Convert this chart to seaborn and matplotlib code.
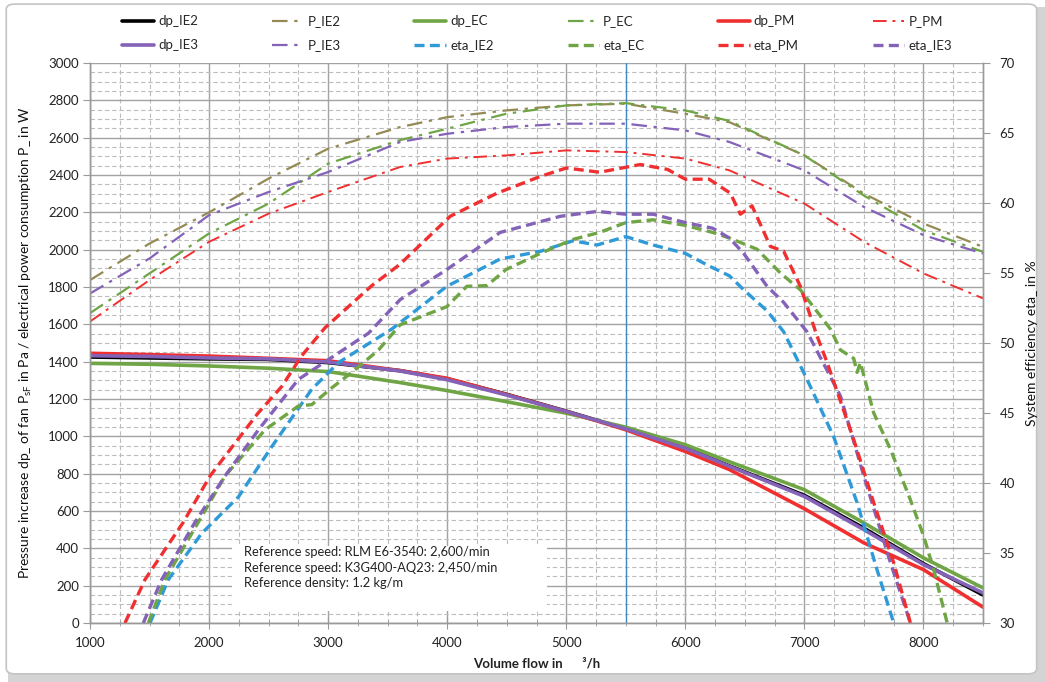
import matplotlib
matplotlib.use('Agg')

import matplotlib.pyplot as plt
import seaborn as sns
from matplotlib.ticker import MultipleLocator
from matplotlib.patches import Rectangle, FancyBboxPatch

# ---- data ----
flow_dp = [1000, 1500, 2000, 2500, 3000, 3605, 4000, 4495, 5000, 5500,
           6000, 6370, 7000, 7500, 8000, 8500]
dp_IE2 = [1425, 1420, 1415, 1412, 1395, 1352, 1308, 1226, 1135, 1040,
          938, 842, 684, 508, 318, 150]
dp_IE3 = [1432, 1428, 1420, 1415, 1398, 1350, 1303, 1222, 1133, 1040,
          936, 840, 678, 500, 313, 161]
dp_EC = [1391, 1386, 1377, 1365, 1347, 1288, 1245, 1186, 1124, 1049,
         955, 864, 714, 536, 349, 188]
dp_PM = [1445, 1438, 1430, 1418, 1405, 1352, 1311, 1225, 1133, 1035,
         919, 822, 612, 429, 286, 85]

flow_p = [1000, 1500, 2000, 2500, 3000, 3605, 4000, 4495, 5000, 5500,
          6000, 6370, 7000, 7500, 8000, 8500]
P_IE2 = [1837, 2033, 2200, 2381, 2541, 2657, 2710, 2746, 2773, 2782,
         2728, 2683, 2505, 2300, 2140, 2015]
P_IE3 = [1765, 1953, 2185, 2309, 2416, 2577, 2621, 2657, 2675, 2675,
         2639, 2577, 2425, 2229, 2078, 1979]
P_EC = [1660, 1873, 2087, 2247, 2461, 2587, 2648, 2728, 2773, 2785,
        2746, 2690, 2505, 2290, 2104, 1988]
P_PM = [1615, 1837, 2042, 2193, 2309, 2443, 2488, 2505, 2532, 2523,
        2488, 2425, 2247, 2042, 1873, 1739]

flow_eta_PM = [1294, 1462, 1784, 2008, 2160, 2412, 2611, 2779, 2975, 3367,
               3600, 4025, 4418, 4782, 5000, 5280, 5622, 5850, 6000, 6200,
               6378, 6462, 6560, 6714, 6826, 6966, 7106, 7191, 7414, 7582,
               7750, 7890]
eta_PM = [30, 33.1, 37.2, 40.5, 42.2, 45.0, 46.9, 49.1, 51.1, 54.1,
          55.6, 59.05, 60.7, 61.9, 62.5, 62.2, 62.75, 62.4, 61.7, 61.7,
          60.7, 59.2, 59.8, 56.9, 56.55, 54.05, 50.5, 48.6, 43.1, 38.6,
          34.3, 30]

flow_eta_IE3 = [1448, 1602, 1882, 2134, 2415, 2750, 3339, 3605, 3997, 4445,
                4950, 5258, 5500, 5730, 6000, 6230, 6370, 6490, 6686, 6826,
                7022, 7303, 7499, 7723, 7890]
eta_IE3 = [30, 33.1, 37.2, 40.5, 43.8, 47.4, 50.7, 53.1, 55.25, 57.9,
           59.05, 59.4, 59.2, 59.2, 58.6, 58.2, 57.5, 56.4, 54.05, 52.9,
           50.8, 46.2, 40.5, 34.3, 30]

flow_eta_IE2 = [1504, 1658, 1938, 2246, 2527, 2863, 3087, 3535, 3997, 4445,
                4782, 5056, 5258, 5500, 5730, 6000, 6200, 6370, 6490, 6686,
                6826, 7022, 7246, 7442, 7610, 7750]
eta_IE2 = [30, 33.1, 36.4, 39.0, 42.6, 46.7, 48.6, 51, 54.05, 56.0,
           56.55, 57.3, 57.0, 57.6, 57.0, 56.4, 55.5, 54.8, 53.8, 52.3,
           50.8, 47.4, 43.3, 38.6, 33.8, 30]

flow_eta_EC = [1490, 1630, 1910, 2134, 2470, 2750, 2863, 3031, 3199, 3423,
               3605, 3997, 4165, 4333, 4495, 4782, 5056, 5280, 5500, 5730,
               6000, 6230, 6370, 6602, 6798, 6966, 7218, 7303, 7414, 7442,
               7470, 7582, 7723, 7890, 8002, 8086, 8199]
eta_EC = [30, 33.1, 37.2, 40.5, 43.8, 45.5, 45.6, 46.8, 47.9, 49.5,
          51.3, 52.6, 54.05, 54.1, 55.25, 56.4, 57.4, 57.9, 58.6, 58.8,
          58.4, 57.9, 57.5, 56.7, 55.0, 53.8, 51, 49.5, 48.9, 47.9,
          48.6, 45.0, 42.4, 38.8, 36.2, 33.8, 30]

ref_flow = 5500
note_lines = ["Reference speed: RLM E6-3540: 2,600/min",
              "Reference speed: K3G400-AQ23: 2,450/min",
              "Reference density: 1.2 kg/m"]

# ---- colours ----
BLACK = "#000000"
OLIVE = "#948a54"
GREEN = "#6fa544"
RED = "#f03030"
PURPLE = "#8462b8"
BLUE = "#2f9ad8"

sns.set_style("white")
plt.rcParams['font.family'] = ['Lato', 'DejaVu Sans']
plt.rcParams['mathtext.fontset'] = 'custom'
plt.rcParams['mathtext.rm'] = 'Lato'
plt.rcParams['mathtext.it'] = 'Lato'

fig = plt.figure(figsize=(10.45, 6.82), dpi=100)
ax = fig.add_axes([0.0861, 0.0865, 0.8546, 0.8211])
ax2 = ax.twinx()

handles = {}

dash_dot = (0, (7, 3, 1.5, 3))
dashed = (0, (3, 1.6))


def draw(axis, x, y, color, style, lw, name):
    sns.lineplot(x=x, y=y, ax=axis, color=color, linestyle=style,
                 linewidth=lw, estimator=None, sort=False, legend=False)
    line = axis.lines[-1]
    line.set_label(name)
    handles[name] = line


draw(ax, flow_p, P_IE2, OLIVE, dash_dot, 1.6, "P_IE2")
draw(ax, flow_p, P_EC, GREEN, dash_dot, 1.6, "P_EC")
draw(ax, flow_p, P_IE3, PURPLE, dash_dot, 1.6, "P_IE3")
draw(ax, flow_p, P_PM, RED, dash_dot, 1.4, "P_PM")

draw(ax, flow_dp, dp_IE2, BLACK, "-", 2.6, "dp_IE2")
draw(ax, flow_dp, dp_EC, GREEN, "-", 2.6, "dp_EC")
draw(ax, flow_dp, dp_PM, RED, "-", 2.6, "dp_PM")
draw(ax, flow_dp, dp_IE3, PURPLE, "-", 2.6, "dp_IE3")

draw(ax2, flow_eta_IE2, eta_IE2, BLUE, dashed, 2.4, "eta_IE2")
draw(ax2, flow_eta_EC, eta_EC, GREEN, dashed, 2.4, "eta_EC")
draw(ax2, flow_eta_IE3, eta_IE3, PURPLE, dashed, 2.4, "eta_IE3")
draw(ax2, flow_eta_PM, eta_PM, RED, dashed, 2.4, "eta_PM")

ax.axvline(ref_flow, color="#3f88c8", lw=1.0, zorder=1.8)

# ---- axes ----
ax.set_xlim(1000, 8500)
ax.set_ylim(0, 3000)
ax2.set_ylim(30, 70)

ax.xaxis.set_major_locator(MultipleLocator(1000))
ax.xaxis.set_minor_locator(MultipleLocator(250))
ax.yaxis.set_major_locator(MultipleLocator(200))
ax.yaxis.set_minor_locator(MultipleLocator(50))
ax2.yaxis.set_major_locator(MultipleLocator(5))

ax.set_axisbelow(True)
ax.grid(which="major", color="#a3a3a3", lw=1.0, ls="-")
ax.grid(which="minor", color="#bcbcbc", lw=0.8, ls=(0, (4, 2.5)))

for a in (ax, ax2):
    for s in a.spines.values():
        s.set_color("#9a9a9a")
        s.set_linewidth(1.0)
ax.spines["top"].set_visible(False)
ax2.spines["top"].set_visible(False)

ax.tick_params(axis="y", which="major", direction="out", length=5,
               color="#9a9a9a", labelsize=9.5, labelcolor="#222222", pad=3, left=True)
ax.tick_params(axis="y", which="minor", left=False)
ax.tick_params(axis="x", which="major", direction="inout", length=8,
               color="#9a9a9a", labelsize=9.5, labelcolor="#222222", pad=6, bottom=True)
ax.tick_params(axis="x", which="minor", direction="inout", length=4,
               color="#9a9a9a", bottom=True)
ax2.tick_params(axis="y", direction="out", length=5, color="#9a9a9a",
                labelsize=9.5, labelcolor="#222222", pad=7, right=True)

ax.set_xlabel("Volume flow in      ³/h", fontsize=9.5, fontweight="bold",
              color="#222222", labelpad=6)
ax.set_ylabel("Pressure increase dp_ of fan P$_{\\mathrm{sF}}$ in Pa / electrical power consumption P_ in W",
              fontsize=10, color="#111111", labelpad=10)
ax2.set_ylabel("System efficiency eta_ in %", fontsize=10, color="#111111",
               labelpad=8)

# ---- note box ----
ax.add_patch(Rectangle((2190, 62), 2650, 350, facecolor="white",
                       edgecolor="none", zorder=1.5))
ax.text(2290, 410, "\n".join(note_lines), fontsize=9.3, color="#222222",
        va="top", ha="left", linespacing=1.35, zorder=3)

# ---- legend (row-wise order) ----
order = ["dp_IE2", "dp_IE3", "P_IE2", "P_IE3", "dp_EC", "eta_IE2",
         "P_EC", "eta_EC", "dp_PM", "eta_PM", "P_PM", "eta_IE3"]
fig.legend([handles[n] for n in order], order, loc="upper center",
           bbox_to_anchor=(0.514, 0.995), ncol=6, frameon=False,
           fontsize=9.5, handlelength=2.4, handletextpad=0.3,
           columnspacing=5.6, labelspacing=0.9)

# ---- frame around figure ----
fig.patches.append(Rectangle((0.008, 0.0), 0.992, 0.99, transform=fig.transFigure,
                             facecolor="#d4d4d4", edgecolor="none", zorder=-2))
fig.patches.append(FancyBboxPatch((0.006, 0.012), 0.986, 0.982,
                                  boxstyle="round,pad=0,rounding_size=0.008",
                                  transform=fig.transFigure, facecolor="white",
                                  edgecolor="#c4c4c4", lw=1.2, zorder=-1))

fig.savefig("out.png", dpi=100)
plt.close(fig)
